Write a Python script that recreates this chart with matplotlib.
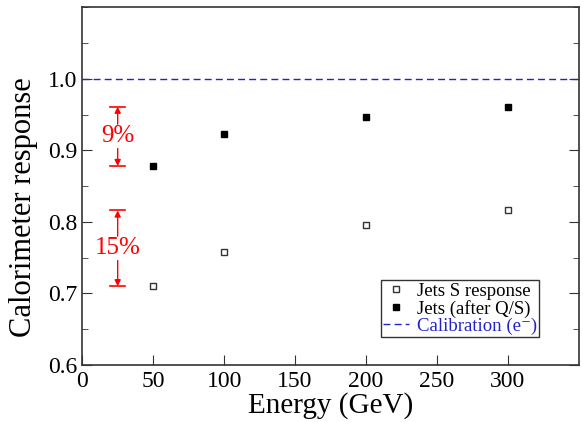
import numpy as np
from matplotlib import pyplot as plt
from matplotlib.ticker import MultipleLocator

plt.rcParams['font.family'] = ['Liberation Serif', 'DejaVu Serif']
plt.rcParams['mathtext.fontset'] = 'stix'

energy = [50, 100, 200, 300]
s_response = [0.710, 0.758, 0.796, 0.816]
qs_response = [0.878, 0.923, 0.946, 0.961]
calibration = 1.0

fig = plt.figure(figsize=(5.83, 4.22), dpi=100)
ax = fig.add_axes([0.141, 0.135, 0.852, 0.848])

ax.plot(energy, s_response, 's', ms=4.2, mfc='white', mec='#333333', mew=1.0,
        label='Jets S response')
ax.plot(energy, qs_response, 's', ms=4.6, color='black', label='Jets (after Q/S)')
ax.axhline(calibration, color='#2222cc', ls=(0, (5, 3)), lw=1.0,
           label='Calibration (e\u207b)')

# red spread markers: gap between 50 and 300 GeV for each series
def spread(x, lo, hi, txt):
    mid = 0.5 * (lo + hi)
    for end, start in ((hi, mid + 0.017), (lo, mid - 0.017)):
        ax.annotate('', xy=(x, end), xytext=(x, start),
                    arrowprops=dict(arrowstyle='-|>', color='red', lw=1.0,
                                    mutation_scale=9, shrinkA=0, shrinkB=0))
        ax.plot([x - 5.5, x + 5.5], [end, end], color='red', lw=1.2)
    ax.text(x, mid, txt, color='red', fontsize=18, ha='center', va='center')

spread(25, qs_response[0], qs_response[-1], '9%')
spread(25, s_response[0], s_response[-1], '15%')

ax.set_xlim(0, 350)
ax.set_ylim(0.6, 1.1)
ax.set_xticks([0, 50, 100, 150, 200, 250, 300])
ax.set_yticks([0.6, 0.7, 0.8, 0.9, 1.0])
ax.set_yticklabels(['0.6', '0.7', '0.8', '0.9', '1.0'])
ax.yaxis.set_minor_locator(MultipleLocator(0.05))
ax.tick_params(axis='both', which='both', direction='in', labelsize=17,
               color='#333333')
ax.tick_params(axis='y', which='both', right=True)
ax.tick_params(axis='y', which='major', length=7)
ax.tick_params(axis='y', which='minor', length=4)
ax.tick_params(axis='x', which='major', length=7, pad=4)
for sp in ax.spines.values():
    sp.set_color('#333333')
    sp.set_linewidth(1.2)

ax.set_xlabel('Energy (GeV)', fontsize=21, labelpad=0)
ax.set_ylabel('Calorimeter response', fontsize=22)
ax.yaxis.set_label_coords(-0.088, 0.44)

leg = ax.legend(loc='lower right', bbox_to_anchor=(0.92, 0.078), fontsize=13.5,
                frameon=True, fancybox=False, edgecolor='black',
                handlelength=1.4, handletextpad=0.4, borderpad=0.12,
                labelspacing=0.0, borderaxespad=0)
leg.get_frame().set_linewidth(1.0)
leg.get_texts()[2].set_color('#2222cc')

fig.savefig('out.png', dpi=100)
